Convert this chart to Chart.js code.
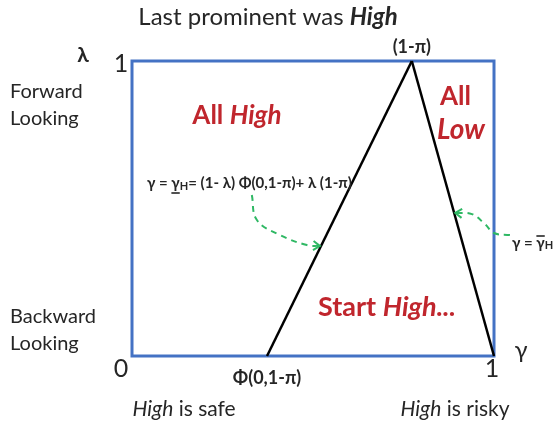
<!DOCTYPE html>
<html lang="en">
<head>
    <meta charset="UTF-8">
    <title>Last prominent was High</title>
    <script src="https://cdn.jsdelivr.net/npm/chart.js"></script>
    <style>
        body {
            margin: 0;
            background-color: #ffffff;
        }
        .chart-container {
            position: relative;
            width: 553px;
            height: 421px;
        }
    </style>
</head>
<body>
    <div class="chart-container">
        <canvas id="regionChart"></canvas>
    </div>

    <script>
        // axis values shown on the diagram
        const gammaTicks = [0, 1];
        const lambdaTicks = [0, 1];

        // key points on the gamma axis
        const phiBase = 0.373;    // Phi(0,1-pi)
        const peakGamma = 0.773;  // (1-pi)

        // left boundary: gamma_H lower threshold
        const lowerBoundX = [phiBase, peakGamma];
        const lowerBoundY = [0, 1];
        // right boundary: gamma_H upper threshold
        const upperBoundX = [peakGamma, 1];
        const upperBoundY = [1, 0];

        // dashed green pointers from the formulas to the boundaries
        const arrowLeftX = [0.331, 0.345, 0.409, 0.483, 0.519];
        const arrowLeftY = [0.546, 0.461, 0.410, 0.376, 0.373];
        const arrowRightX = [1.044, 1.0, 0.975, 0.939, 0.893];
        const arrowRightY = [0.410, 0.417, 0.447, 0.481, 0.485];

        const FONT = 'Lato, "Open Sans", sans-serif';
        const TXT = '#262626';
        const RED = '#c0262d';
        const GREEN = '#2fb864';

        const zip = (xs, ys) => xs.map((x, i) => ({ x: x, y: ys[i] }));

        function f(size, bold, italic) {
            return (italic ? 'italic ' : '') + (bold ? 'bold ' : '') + size + 'px ' + FONT;
        }

        // draw a run of differently styled text pieces on one line
        function rich(ctx, x, y, parts, align) {
            let total = 0;
            parts.forEach(p => { ctx.font = p.font; total += ctx.measureText(p.t).width; });
            let cx = align === 'center' ? x - total / 2 : (align === 'right' ? x - total : x);
            ctx.textAlign = 'left';
            ctx.textBaseline = 'middle';
            parts.forEach(p => {
                ctx.font = p.font;
                ctx.fillStyle = p.color || TXT;
                const w = ctx.measureText(p.t).width;
                ctx.fillText(p.t, cx, y + (p.dy || 0));
                if (p.under || p.over) {
                    ctx.save();
                    ctx.strokeStyle = p.color || TXT;
                    ctx.lineWidth = 1.6;
                    ctx.beginPath();
                    const ly = p.under ? y + 10 : y - 7;
                    ctx.moveTo(cx, ly);
                    ctx.lineTo(cx + w, ly);
                    ctx.stroke();
                    ctx.restore();
                }
                cx += w;
            });
        }

        function arrowHead(ctx, xs, ys, chart) {
            const sx = chart.scales.x, sy = chart.scales.y;
            const n = xs.length;
            const tx = sx.getPixelForValue(xs[n - 1]), ty = sy.getPixelForValue(ys[n - 1]);
            const px = sx.getPixelForValue(xs[n - 2]), py = sy.getPixelForValue(ys[n - 2]);
            const a = Math.atan2(ty - py, tx - px);
            ctx.save();
            ctx.strokeStyle = GREEN;
            ctx.lineWidth = 2;
            ctx.beginPath();
            ctx.moveTo(tx - 8 * Math.cos(a - 0.6), ty - 8 * Math.sin(a - 0.6));
            ctx.lineTo(tx, ty);
            ctx.lineTo(tx - 8 * Math.cos(a + 0.6), ty - 8 * Math.sin(a + 0.6));
            ctx.stroke();
            ctx.restore();
        }

        const diagramPlugin = {
            id: 'diagram',
            beforeDatasetsDraw(chart) {
                const { ctx, chartArea: ca } = chart;
                ctx.save();
                ctx.strokeStyle = '#4472c4';
                ctx.lineWidth = 3;
                ctx.strokeRect(ca.left, ca.top, ca.right - ca.left, ca.bottom - ca.top);
                ctx.restore();
            },
            afterDatasetsDraw(chart) {
                arrowHead(chart.ctx, arrowLeftX, arrowLeftY, chart);
                arrowHead(chart.ctx, arrowRightX, arrowRightY, chart);
            },
            afterDraw(chart) {
                const { ctx, chartArea: ca } = chart;
                const sx = chart.scales.x, sy = chart.scales.y;
                ctx.save();

                // title
                rich(ctx, 268, 17, [
                    { t: 'Last prominent was ', font: f(24, false, false) },
                    { t: 'High', font: f(24, true, true) }
                ], 'center');

                // tick numbers
                rich(ctx, ca.left - 11, sy.getPixelForValue(lambdaTicks[1]) + 3, [{ t: String(lambdaTicks[1]), font: f(25) }], 'center');
                rich(ctx, ca.left - 11, ca.bottom + 13, [{ t: String(gammaTicks[0]), font: f(25) }], 'center');
                rich(ctx, sx.getPixelForValue(gammaTicks[1]) - 2, ca.bottom + 13, [{ t: String(gammaTicks[1]), font: f(25) }], 'center');

                // axis symbols
                rich(ctx, 83, 55, [{ t: 'λ', font: f(21, true) }], 'center');
                rich(ctx, 521, 350, [{ t: 'γ', font: f(24) }], 'center');

                // side labels
                rich(ctx, 10, 92, [{ t: 'Forward', font: f(20) }], 'left');
                rich(ctx, 10, 119, [{ t: 'Looking', font: f(20) }], 'left');
                rich(ctx, 10, 317, [{ t: 'Backward', font: f(20) }], 'left');
                rich(ctx, 10, 344, [{ t: 'Looking', font: f(20) }], 'left');

                // key points
                rich(ctx, sx.getPixelForValue(peakGamma), ca.top - 14, [{ t: '(1-π)', font: f(18, true) }], 'center');
                rich(ctx, sx.getPixelForValue(phiBase), ca.bottom + 22, [{ t: 'Φ(0,1-π)', font: f(18, true) }], 'center');

                // regions
                rich(ctx, 237, 116, [
                    { t: 'All ', font: f(26, true), color: RED },
                    { t: 'High', font: f(26, true, true), color: RED }
                ], 'center');
                rich(ctx, 440, 97, [{ t: 'All', font: f(26, true), color: RED }], 'left');
                rich(ctx, 437, 130, [{ t: 'Low', font: f(28, true, true), color: RED }], 'left');
                rich(ctx, 387, 307, [
                    { t: 'Start ', font: f(27, true), color: RED },
                    { t: 'High...', font: f(27, true, true), color: RED }
                ], 'center');

                // formulas
                rich(ctx, 147, 183, [
                    { t: 'γ = ', font: f(15, true) },
                    { t: 'γ', font: f(15, true), under: true },
                    { t: 'H', font: f(11, true), dy: 3 },
                    { t: '= (1- λ) Φ(0,1-π)+ λ (1-π)', font: f(15, true) }
                ], 'left');
                rich(ctx, 512, 243, [
                    { t: 'γ = ', font: f(15, true) },
                    { t: 'γ', font: f(15, true), over: true },
                    { t: 'H', font: f(11, true), dy: 2 }
                ], 'left');

                // bottom captions
                rich(ctx, 184, 409, [
                    { t: 'High', font: f(21, false, true) },
                    { t: ' is safe', font: f(21) }
                ], 'center');
                rich(ctx, 455, 409, [
                    { t: 'High', font: f(21, false, true) },
                    { t: ' is risky', font: f(21) }
                ], 'center');

                ctx.restore();
            }
        };

        const ctx = document.getElementById('regionChart').getContext('2d');
        new Chart(ctx, {
            type: 'scatter',
            data: {
                datasets: [
                    {
                        data: zip(lowerBoundX, lowerBoundY),
                        showLine: true,
                        borderColor: '#000000',
                        borderWidth: 2.5,
                        pointRadius: 0,
                        clip: false
                    },
                    {
                        data: zip(upperBoundX, upperBoundY),
                        showLine: true,
                        borderColor: '#000000',
                        borderWidth: 2.5,
                        pointRadius: 0,
                        clip: false
                    },
                    {
                        data: zip(arrowLeftX, arrowLeftY),
                        showLine: true,
                        borderColor: GREEN,
                        borderWidth: 2,
                        borderDash: [6, 5],
                        tension: 0.4,
                        pointRadius: 0,
                        clip: false
                    },
                    {
                        data: zip(arrowRightX, arrowRightY),
                        showLine: true,
                        borderColor: GREEN,
                        borderWidth: 2,
                        borderDash: [6, 5],
                        tension: 0.4,
                        pointRadius: 0,
                        clip: false
                    }
                ]
            },
            options: {
                responsive: true,
                maintainAspectRatio: false,
                devicePixelRatio: 1,
                animation: false,
                layout: {
                    padding: { left: 132, right: 59, top: 61, bottom: 65 }
                },
                scales: {
                    x: { type: 'linear', min: 0, max: 1, display: false },
                    y: { type: 'linear', min: 0, max: 1, display: false }
                },
                plugins: {
                    legend: { display: false },
                    tooltip: { enabled: false }
                }
            },
            plugins: [diagramPlugin]
        });
    </script>
</body>
</html>
